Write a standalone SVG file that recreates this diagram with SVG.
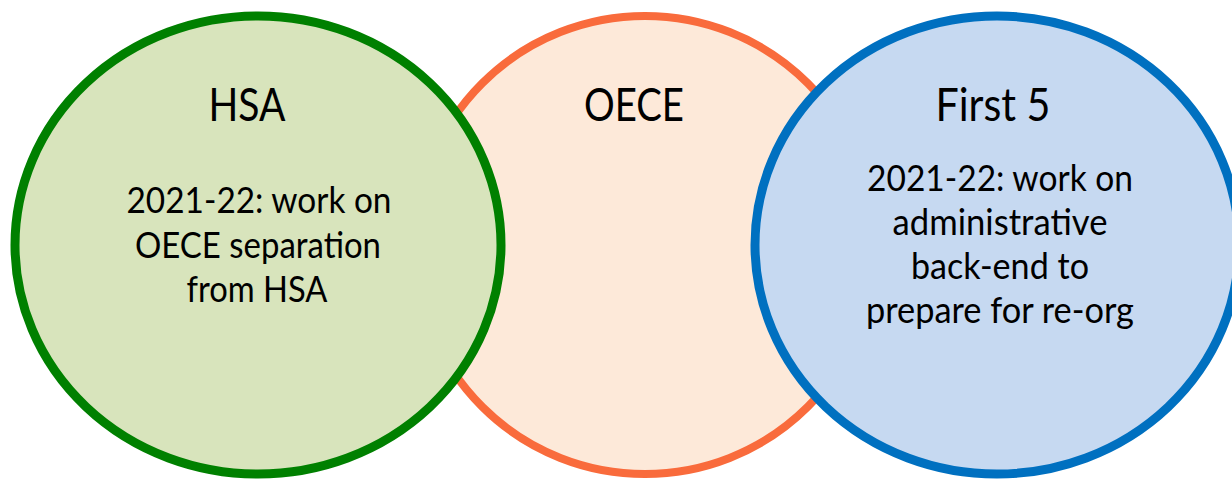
<svg xmlns="http://www.w3.org/2000/svg" width="1232" height="480" viewBox="0 0 1232 480">
<style>
.t{font-family:Lato,"Open Sans","Liberation Sans",sans-serif;fill:#000;text-anchor:middle}
.h{font-size:46px}
.b{font-size:37px}
</style>
<rect x="0" y="0" width="1232" height="480" fill="#fff"/>
<g id="oece">
<ellipse cx="645" cy="245" rx="230" ry="229" fill="#FDE9D9" stroke="#F96B3C" stroke-width="8"/>
<text class="t h" x="634" y="121" textLength="100" lengthAdjust="spacingAndGlyphs">OECE</text>
</g>
<g id="hsa">
<ellipse cx="258" cy="245" rx="243" ry="229" fill="#D8E4BC" stroke="#008000" stroke-width="9"/>
<text class="t h" x="247" y="121" textLength="77" lengthAdjust="spacingAndGlyphs">HSA</text>
<text class="t b" x="259" y="213" textLength="265" lengthAdjust="spacingAndGlyphs">2021-22: work on</text>
<text class="t b" x="258" y="258" textLength="246" lengthAdjust="spacingAndGlyphs">OECE separation</text>
<text class="t b" x="257" y="302" textLength="141" lengthAdjust="spacingAndGlyphs">from HSA</text>
</g>
<g id="first5">
<ellipse cx="997" cy="245" rx="242" ry="229" fill="#C6D9F1" stroke="#0070C0" stroke-width="9"/>
<text class="t h" x="993" y="121" textLength="115" lengthAdjust="spacingAndGlyphs">First 5</text>
<text class="t b" x="1000" y="191" textLength="266" lengthAdjust="spacingAndGlyphs">2021-22: work on</text>
<text class="t b" x="1000" y="235" textLength="215" lengthAdjust="spacingAndGlyphs">administrative</text>
<text class="t b" x="1000" y="279" textLength="178" lengthAdjust="spacingAndGlyphs">back-end to</text>
<text class="t b" x="1000" y="323" textLength="268" lengthAdjust="spacingAndGlyphs">prepare for re-org</text>
</g>
<g id="connectors"></g>
</svg>
